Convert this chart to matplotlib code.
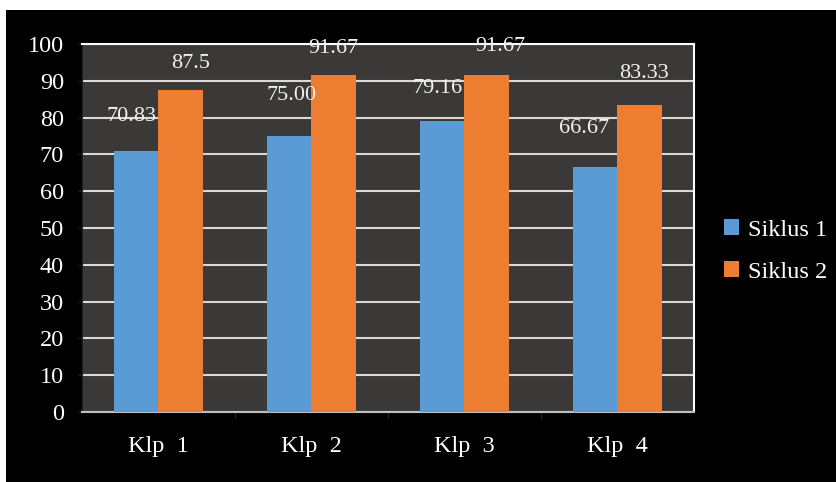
import matplotlib.pyplot as plt
import numpy as np
from matplotlib.patches import Rectangle

# data
groups = ["Klp  1", "Klp  2", "Klp  3", "Klp  4"]
siklus1 = [70.83, 75.00, 79.16, 66.67]
siklus2 = [87.5, 91.67, 91.67, 83.33]
labels1 = ["70.83", "75.00", "79.16", "66.67"]
labels2 = ["87.5", "91.67", "91.67", "83.33"]

# label offsets (pixels) relative to bar top, as in the original layout
off1 = [(-5, 35), (2, 40), (-5, 32), (-11, 38)]
off2 = [(10, 26), (0, 26), (14, 28), (4, 32)]

blue = "#5B9BD5"
orange = "#ED7D31"
plot_bg = "#3b3937"
grid_col = "#d9d9d9"

plt.rcParams["font.family"] = ["Liberation Serif", "DejaVu Serif"]

fig = plt.figure(figsize=(8.37, 4.82), dpi=100, facecolor="white")
# black chart area, leaving thin white strip at top and left
fig.patches.append(Rectangle((6 / 837, 0), 1, 1 - 10 / 482, transform=fig.transFigure,
                             facecolor="black", edgecolor="none", zorder=-5))

ax = fig.add_axes([82 / 837, 1 - 412 / 482, (694 - 82) / 837, (412 - 44) / 482])
ax.set_facecolor(plot_bg)

x = np.arange(len(groups))
w = 0.288
b1 = ax.bar(x - w / 2, siklus1, w, color=blue, label="Siklus 1", zorder=3)
b2 = ax.bar(x + w / 2, siklus2, w, color=orange, label="Siklus 2", zorder=3)

# data labels
for i in range(len(groups)):
    ax.annotate(labels1[i], (x[i] - w / 2, siklus1[i]), xytext=off1[i],
                textcoords="offset pixels", ha="center", va="center",
                color="#f2f2f2", fontsize=16, zorder=4)
    ax.annotate(labels2[i], (x[i] + w / 2, siklus2[i]), xytext=off2[i],
                textcoords="offset pixels", ha="center", va="center",
                color="#f2f2f2", fontsize=16, zorder=4)

ax.set_xlim(-0.5, len(groups) - 0.5)
ax.set_ylim(0, 100)
ax.set_yticks(np.arange(0, 101, 10))
ax.yaxis.grid(True, color=grid_col, linewidth=1.5, zorder=1)
ax.set_axisbelow(True)

ax.set_xticks(x)
ax.set_xticklabels(groups)
ax.set_xticks(np.arange(0.5, len(groups) - 0.5, 1), minor=True)
ax.tick_params(axis="x", which="major", length=0, pad=17, labelsize=17.5, labelcolor="white")
ax.tick_params(axis="x", which="minor", length=4, color="#333333", direction="out")
ax.tick_params(axis="y", length=3, color="#222222", pad=10, labelsize=17.5, labelcolor="white")

for side in ["top", "right"]:
    ax.spines[side].set_color("white")
    ax.spines[side].set_linewidth(1.5)
ax.spines["left"].set_color("#222222")
ax.spines["bottom"].set_color("#bfbfbf")
ax.spines["bottom"].set_linewidth(1.5)

leg = fig.legend(handles=[b1, b2], loc="center left", bbox_to_anchor=(724 / 837, 1 - 251 / 482),
                 frameon=False, fontsize=17.5, labelcolor="white", handlelength=0.6,
                 handleheight=0.6, handletextpad=0.4, labelspacing=0.85,
                 borderpad=0, borderaxespad=0)

fig.savefig("out.png", dpi=100, facecolor=fig.get_facecolor())
